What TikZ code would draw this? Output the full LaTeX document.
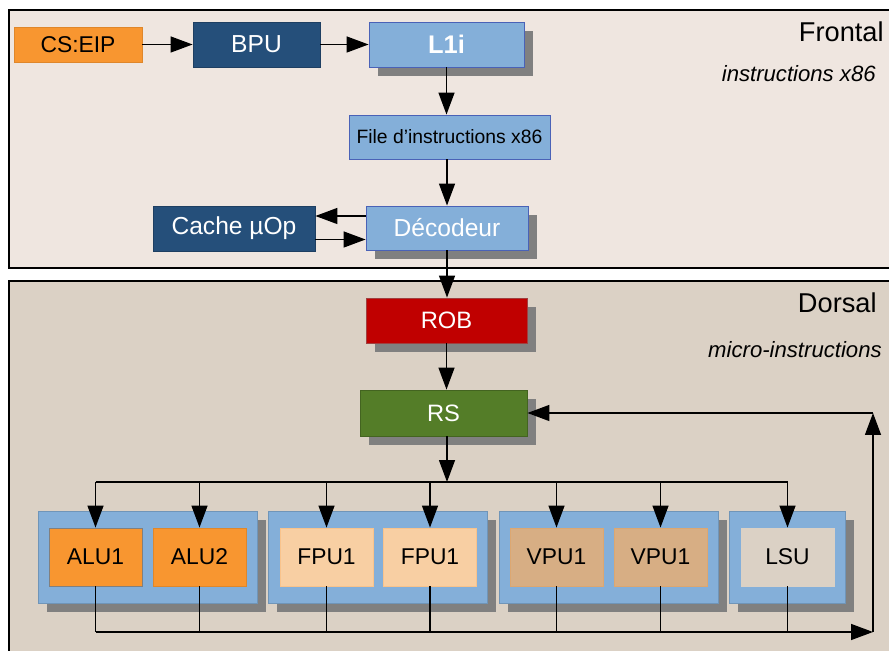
\documentclass[tikz,border=0pt]{standalone}
\usepackage{fontspec}
\setmainfont{Liberation Sans}
\usepackage{xcolor}
\usepackage{tikz}
\usetikzlibrary{positioning, arrows.meta, shadows}
\definecolor{frontbg}{RGB}{239, 230, 224}
\definecolor{backbg}{RGB}{219, 209, 197}
\definecolor{orangeu}{RGB}{248, 150, 48}
\definecolor{darkblue}{RGB}{37, 79, 122}
\definecolor{lightblue}{RGB}{132, 175, 217}
\definecolor{robred}{RGB}{192, 0, 0}
\definecolor{rsgreen}{RGB}{84, 125, 40}
\definecolor{shadowgray}{RGB}{128, 128, 128}
\definecolor{fpucol}{RGB}{248, 207, 163}
\definecolor{vpucol}{RGB}{215, 174, 132}
\definecolor{lsucol}{RGB}{219, 209, 197}

\tikzset{
  box/.style={inner sep=0pt, line width=0.5pt, font=\fontsize{14}{16}\selectfont},
  shade/.style={drop shadow={shadow xshift=0.18cm, shadow yshift=-0.18cm, fill=shadowgray, opacity=1}},
  group/.style={fill=lightblue, draw=lightblue!85!black, line width=0.4pt, minimum height=1.84cm, shade},
  unit/.style={box, font=\fontsize{13}{15}\selectfont, minimum width=1.86cm, minimum height=1.16cm},
  arr/.style={-{Triangle[length=0.44cm, width=0.32cm]}, line width=0.8pt},
  wire/.style={line width=0.8pt}
}

\begin{document}
\begin{tikzpicture}[x=0.02cm, y=-0.02cm]
                \useasboundingbox (0,0) rectangle (889,651);
                \draw[fill=frontbg, line width=0.6pt] (9,10) rectangle (895,268);
                \draw[fill=backbg, line width=0.6pt] (9,281) rectangle (895,665);

                \node[anchor=east, inner sep=0pt, font=\fontsize{15.5}{18}\selectfont] (frontal) at (884,32) {Frontal};
                \node[anchor=east, inner sep=0pt, font=\fontsize{12.6}{14}\selectfont\itshape] (frontsub) at (876,74) {instructions x86};
                \node[anchor=east, inner sep=0pt, font=\fontsize{15.5}{18}\selectfont] (dorsal) at (877,303) {Dorsal};
                \node[anchor=east, inner sep=0pt, font=\fontsize{12.6}{14}\selectfont\itshape] (backsub) at (882,350) {micro-instructions};

                \node[box, font=\fontsize{13}{15}\selectfont, fill=orangeu, draw=orangeu!90!black, minimum width=2.56cm, minimum height=0.70cm] (cseip) at (78,44.5) {CS:EIP};
                \node[box, fill=darkblue, draw=darkblue!80!black, text=white, minimum width=2.54cm, minimum height=0.90cm] (bpu) at (256.5,44.5) {BPU};
                \node[box, fill=lightblue, draw=lightblue!70!blue!80!black, text=white, font=\fontsize{14.5}{16}\selectfont\bfseries, minimum width=3.10cm, minimum height=0.90cm, shade] (l1i) at (446.5,44.5) {L1i};
                \node[box, fill=lightblue, draw=lightblue!70!blue!80!black, font=\fontsize{11}{13}\selectfont, minimum width=4.02cm, minimum height=0.88cm] (fileinstr) at (449.5,137) {File d’instructions x86};
                \node[box, fill=lightblue, draw=lightblue!70!blue!80!black, text=white, minimum width=3.24cm, minimum height=0.88cm, shade] (decodeur) at (447,228) {Décodeur};
                \node[box, fill=darkblue, draw=darkblue!80!black, text=white, minimum width=3.24cm, minimum height=0.90cm] (cache) at (234,228.5) {Cache µOp};

                \node[box, font=\fontsize{13.5}{15}\selectfont, fill=robred, draw=robred!50!gray, text=white, minimum width=3.22cm, minimum height=0.90cm, shade] (rob) at (446.5,320.5) {ROB};
                \node[box, font=\fontsize{13.5}{15}\selectfont, fill=rsgreen, draw=rsgreen!80!black, text=white, minimum width=3.34cm, minimum height=0.92cm, shade] (rs) at (443.5,413) {RS};

                \node[group, minimum width=4.38cm] (alugrp) at (147.5,557) {};
                \node[group, minimum width=4.38cm] (fpugrp) at (377.5,557) {};
                \node[group, minimum width=4.38cm] (vpugrp) at (608.5,557) {};
                \node[group, minimum width=2.32cm] (lsugrp) at (787,557) {};

                \node[unit, fill=orangeu, draw=gray] (alua) at (95.5,557) {ALU1};
                \node[unit, fill=orangeu, draw=orangeu!90!black] (alub) at (199.5,557) {ALU2};
                \node[unit, fill=fpucol, draw=fpucol!85!orange] (fpua) at (326.5,557) {FPU1};
                \node[unit, fill=fpucol, draw=fpucol!85!orange] (fpub) at (430,557) {FPU1};
                \node[unit, fill=vpucol, draw=vpucol!85!orange] (vpua) at (556.5,557) {VPU1};
                \node[unit, fill=vpucol, draw=vpucol!85!orange] (vpub) at (660.5,557) {VPU1};
                \node[unit, fill=lsucol, draw=lsucol] (lsu) at (787.5,557) {LSU};

                \coordinate (split) at (447,482);
                \coordinate (merge) at (873,632);
                \coordinate (back) at (873,413);

                \draw[arr] (cseip) -- (bpu);
                \draw[arr] (bpu) -- (l1i);
                \draw[arr] (l1i.south) -- (l1i.south |- fileinstr.north);
                \draw[arr] (decodeur.north |- fileinstr.south) -- (decodeur.north);
                \draw[arr] ([yshift=0.24cm]decodeur.west) -- ([yshift=0.24cm]decodeur.west -| cache.east);
                \draw[arr] ([yshift=-0.22cm]cache.east) -- ([yshift=-0.22cm]cache.east -| decodeur.west);
                \draw[arr] (decodeur.south) -- (decodeur.south |- rob.north);
                \draw[arr] (rob.south) -- (rob.south |- rs.north);
                \draw[arr] (split |- rs.south) -- (split);

                \draw[wire] (alua.north |- split) -- (lsu.north |- split);
                \foreach \u in {alua, alub, fpua, fpub, vpua, vpub, lsu} {
                  \draw[arr] (\u.north |- split) -- (\u.north);
                  \draw[wire] (\u.south) -- (\u.south |- merge);
                }
                \draw[arr] (alua.south |- merge) -- (merge);
                \draw[arr] (merge) -- (back);
                \draw[arr] (back) -- (rs.east |- back);
            \end{tikzpicture}
\end{document}
